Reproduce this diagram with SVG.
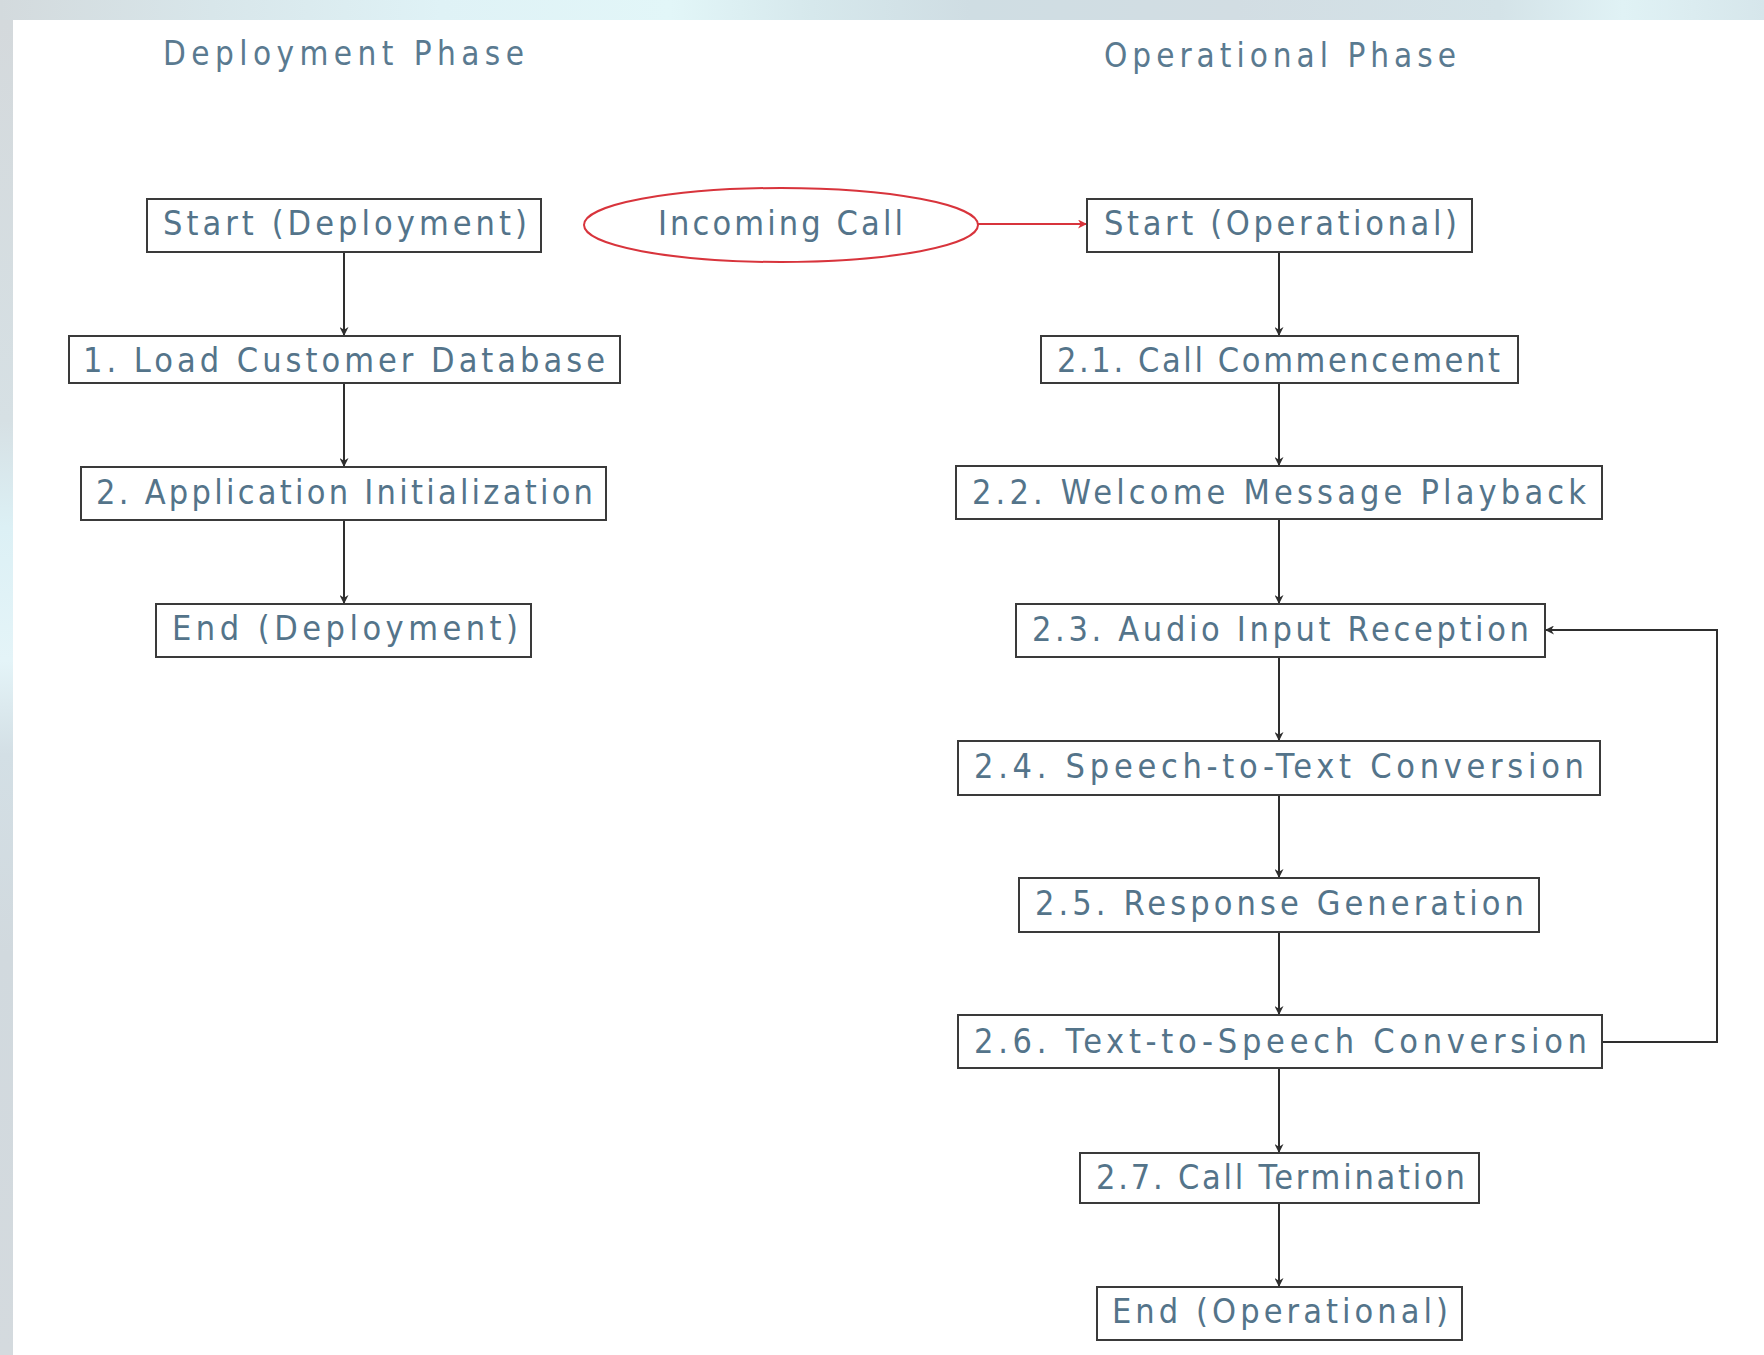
<svg xmlns="http://www.w3.org/2000/svg" width="1764" height="1355" viewBox="0 0 1764 1355">
  <style>
    .box { fill: #ffffff; stroke: #3a3a3a; stroke-width: 2; }
    .lbl { font-family: "DejaVu Sans", "Liberation Sans", sans-serif; font-stretch: condensed; font-size: 34px; fill: #54748a; }
    .phase { font-family: "DejaVu Sans", "Liberation Sans", sans-serif; font-stretch: condensed; font-size: 33px; fill: #5a7a90; }
    .edge { fill: none; stroke: #2e2e2e; stroke-width: 2; }
    .edge-red { fill: none; stroke: #d8343c; stroke-width: 2; }
  </style>
  <defs>
    <linearGradient id="topBand" x1="0" y1="0" x2="1" y2="0">
      <stop offset="0" stop-color="#d3dadd"/>
      <stop offset="0.12" stop-color="#d8e6ea"/>
      <stop offset="0.25" stop-color="#dff2f6"/>
      <stop offset="0.38" stop-color="#e2f6f8"/>
      <stop offset="0.46" stop-color="#d6e8ec"/>
      <stop offset="0.55" stop-color="#cfdde3"/>
      <stop offset="0.7" stop-color="#d2dde3"/>
      <stop offset="0.85" stop-color="#d4e3e8"/>
      <stop offset="0.92" stop-color="#e0f2f5"/>
      <stop offset="1" stop-color="#d6e6eb"/>
    </linearGradient>
    <linearGradient id="leftBand" x1="0" y1="0" x2="0" y2="1">
      <stop offset="0" stop-color="#d4d9dc"/>
      <stop offset="0.3" stop-color="#d6e0e4"/>
      <stop offset="0.38" stop-color="#dcf0f5"/>
      <stop offset="0.48" stop-color="#e4f4f8"/>
      <stop offset="0.55" stop-color="#d3dfe5"/>
      <stop offset="0.7" stop-color="#d1d9de"/>
      <stop offset="1" stop-color="#d4dade"/>
    </linearGradient>
    <marker id="arrow" viewBox="0 0 10 10" refX="10" refY="5" markerWidth="9" markerHeight="9" markerUnits="userSpaceOnUse" orient="auto">
      <path d="M0,0 L10,5 L0,10 L3,5 Z" fill="#2e2e2e"/>
    </marker>
    <marker id="arrowRed" viewBox="0 0 10 10" refX="10" refY="5" markerWidth="9" markerHeight="9" markerUnits="userSpaceOnUse" orient="auto">
      <path d="M0,0 L10,5 L0,10 L3,5 Z" fill="#d8343c"/>
    </marker>
  </defs>

  <!-- backdrop and white canvas -->
  <rect x="0" y="0" width="1764" height="1355" fill="#d4dade"/>
  <rect x="0" y="0" width="1764" height="20" fill="url(#topBand)"/>
  <rect x="0" y="20" width="13" height="1335" fill="url(#leftBand)"/>
  <rect x="13" y="20" width="1751" height="1335" fill="#ffffff"/>

  <!-- phase headings -->
  <text class="phase" x="163" y="65" textLength="361" lengthAdjust="spacing">Deployment Phase</text>
  <text class="phase" x="1104" y="67" textLength="352" lengthAdjust="spacing">Operational Phase</text>

  <!-- connectors -->
  <g id="connectors">
    <line class="edge" x1="344" y1="252" x2="344" y2="336" marker-end="url(#arrow)"/>
    <line class="edge" x1="344" y1="383" x2="344" y2="467" marker-end="url(#arrow)"/>
    <line class="edge" x1="344" y1="520" x2="344" y2="604" marker-end="url(#arrow)"/>

    <line class="edge-red" x1="978" y1="224" x2="1087" y2="224" marker-end="url(#arrowRed)"/>

    <line class="edge" x1="1279" y1="252" x2="1279" y2="336" marker-end="url(#arrow)"/>
    <line class="edge" x1="1279" y1="383" x2="1279" y2="466" marker-end="url(#arrow)"/>
    <line class="edge" x1="1279" y1="519" x2="1279" y2="604" marker-end="url(#arrow)"/>
    <line class="edge" x1="1279" y1="657" x2="1279" y2="741" marker-end="url(#arrow)"/>
    <line class="edge" x1="1279" y1="795" x2="1279" y2="878" marker-end="url(#arrow)"/>
    <line class="edge" x1="1279" y1="932" x2="1279" y2="1015" marker-end="url(#arrow)"/>
    <line class="edge" x1="1279" y1="1068" x2="1279" y2="1153" marker-end="url(#arrow)"/>
    <line class="edge" x1="1279" y1="1203" x2="1279" y2="1287" marker-end="url(#arrow)"/>

    <!-- feedback loop: 2.6 back to 2.3 -->
    <path class="edge" d="M1602,1042 H1717 V630 H1545" marker-end="url(#arrow)"/>
  </g>

  <!-- deployment phase nodes -->
  <g id="start-deployment">
    <rect class="box" x="147" y="199" width="394" height="53"/>
    <text class="lbl" x="163" y="235" textLength="364" lengthAdjust="spacing">Start (Deployment)</text>
  </g>
  <g id="load-customer-database">
    <rect class="box" x="69" y="336" width="551" height="47"/>
    <text class="lbl" x="83" y="372" textLength="522" lengthAdjust="spacing">1. Load Customer Database</text>
  </g>
  <g id="application-initialization">
    <rect class="box" x="81" y="467" width="525" height="53"/>
    <text class="lbl" x="96" y="504" textLength="497" lengthAdjust="spacing">2. Application Initialization</text>
  </g>
  <g id="end-deployment">
    <rect class="box" x="156" y="604" width="375" height="53"/>
    <text class="lbl" x="172" y="640" textLength="346" lengthAdjust="spacing">End (Deployment)</text>
  </g>

  <!-- trigger -->
  <g id="incoming-call">
    <ellipse cx="781" cy="225" rx="197" ry="37" fill="#ffffff" stroke="#d8343c" stroke-width="2"/>
    <text class="lbl" x="658" y="235" textLength="245" lengthAdjust="spacing">Incoming Call</text>
  </g>

  <!-- operational phase nodes -->
  <g id="start-operational">
    <rect class="box" x="1087" y="199" width="385" height="53"/>
    <text class="lbl" x="1104" y="235" textLength="353" lengthAdjust="spacing">Start (Operational)</text>
  </g>
  <g id="call-commencement">
    <rect class="box" x="1041" y="336" width="477" height="47"/>
    <text class="lbl" x="1057" y="372" textLength="443" lengthAdjust="spacing">2.1. Call Commencement</text>
  </g>
  <g id="welcome-message-playback">
    <rect class="box" x="956" y="466" width="646" height="53"/>
    <text class="lbl" x="972" y="504" textLength="614" lengthAdjust="spacing">2.2. Welcome Message Playback</text>
  </g>
  <g id="audio-input-reception">
    <rect class="box" x="1016" y="604" width="529" height="53"/>
    <text class="lbl" x="1032" y="641" textLength="497" lengthAdjust="spacing">2.3. Audio Input Reception</text>
  </g>
  <g id="speech-to-text">
    <rect class="box" x="958" y="741" width="642" height="54"/>
    <text class="lbl" x="974" y="778" textLength="610" lengthAdjust="spacing">2.4. Speech-to-Text Conversion</text>
  </g>
  <g id="response-generation">
    <rect class="box" x="1019" y="878" width="520" height="54"/>
    <text class="lbl" x="1035" y="915" textLength="489" lengthAdjust="spacing">2.5. Response Generation</text>
  </g>
  <g id="text-to-speech">
    <rect class="box" x="958" y="1015" width="644" height="53"/>
    <text class="lbl" x="974" y="1053" textLength="613" lengthAdjust="spacing">2.6. Text-to-Speech Conversion</text>
  </g>
  <g id="call-termination">
    <rect class="box" x="1080" y="1153" width="399" height="50"/>
    <text class="lbl" x="1096" y="1189" textLength="369" lengthAdjust="spacing">2.7. Call Termination</text>
  </g>
  <g id="end-operational">
    <rect class="box" x="1097" y="1287" width="365" height="53"/>
    <text class="lbl" x="1112" y="1323" textLength="336" lengthAdjust="spacing">End (Operational)</text>
  </g>
</svg>
